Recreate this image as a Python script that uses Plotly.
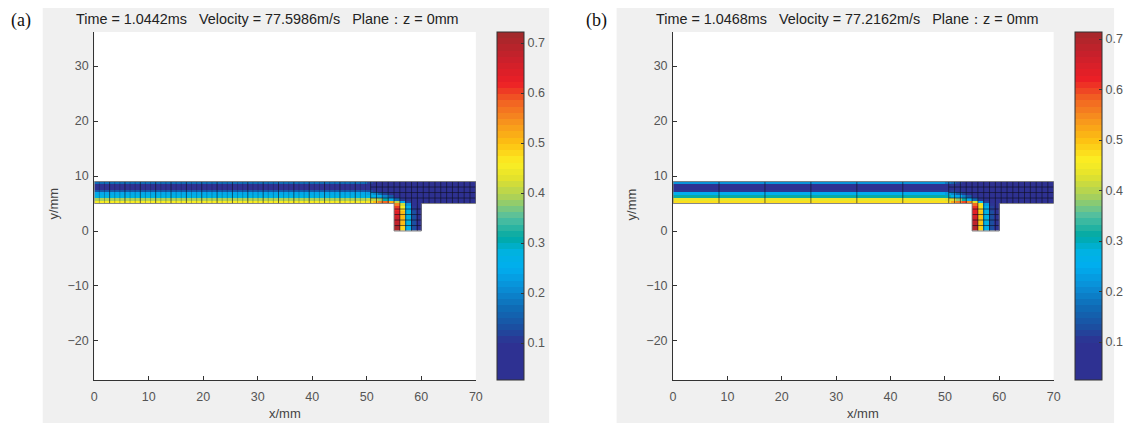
import plotly.graph_objects as go

# page body has an 8px margin, so the figure is drawn 8px in from the window edge
OFF = 8
W, H = 1135 - OFF, 423 - OFF

# ---------------- data ----------------
# cell grid: 1 mm columns (x 0..70), 0.5 mm rows (y 0..9)
x_centers = [0.5 + i for i in range(70)]
y_centers = [0.25 + 0.5 * j for j in range(18)]

# straight channel section (x < 50), rows top (y=9) -> bottom (y=5)
straight_a = [0.17, 0.09, 0.07, 0.14, 0.24, 0.28, 0.39, 0.46]
straight_b = [0.21, 0.09, 0.07, 0.10, 0.25, 0.31, 0.44, 0.48]

# junction section x = 50..60 (10 columns), channel rows top -> bottom
corner_a = [
    [0.12, 0.10, 0.09, 0.08, 0.07, 0.07, 0.07, 0.08, 0.07, 0.07],
    [0.08, 0.07, 0.07, 0.07, 0.07, 0.07, 0.07, 0.07, 0.07, 0.07],
    [0.07, 0.07, 0.07, 0.07, 0.07, 0.07, 0.07, 0.07, 0.07, 0.07],
    [0.13, 0.11, 0.09, 0.08, 0.07, 0.07, 0.07, 0.07, 0.07, 0.07],
    [0.23, 0.20, 0.16, 0.12, 0.09, 0.08, 0.07, 0.07, 0.07, 0.07],
    [0.28, 0.27, 0.24, 0.19, 0.14, 0.10, 0.08, 0.07, 0.07, 0.07],
    [0.40, 0.40, 0.38, 0.30, 0.24, 0.17, 0.11, 0.08, 0.07, 0.07],
    [0.47, 0.50, 0.55, 0.58, 0.52, 0.40, 0.24, 0.12, 0.08, 0.07],
]
corner_b = [
    [0.18, 0.15, 0.12, 0.09, 0.08, 0.07, 0.07, 0.08, 0.07, 0.07],
    [0.09, 0.10, 0.09, 0.08, 0.07, 0.07, 0.07, 0.07, 0.07, 0.07],
    [0.08, 0.09, 0.09, 0.08, 0.07, 0.07, 0.07, 0.07, 0.07, 0.07],
    [0.11, 0.12, 0.10, 0.08, 0.07, 0.07, 0.07, 0.07, 0.07, 0.07],
    [0.23, 0.20, 0.16, 0.12, 0.09, 0.08, 0.07, 0.07, 0.07, 0.07],
    [0.30, 0.28, 0.24, 0.19, 0.14, 0.10, 0.08, 0.07, 0.07, 0.07],
    [0.43, 0.42, 0.38, 0.32, 0.25, 0.17, 0.11, 0.08, 0.07, 0.07],
    [0.48, 0.52, 0.56, 0.60, 0.55, 0.42, 0.25, 0.12, 0.08, 0.07],
]

# vertical branch x = 55..60 (5 columns), rows top (y=5) -> bottom (y=0)
branch_a = [
    [0.55, 0.42, 0.22, 0.10, 0.07],
    [0.60, 0.46, 0.25, 0.11, 0.07],
    [0.62, 0.48, 0.27, 0.12, 0.07],
    [0.64, 0.50, 0.28, 0.13, 0.08],
    [0.65, 0.50, 0.28, 0.13, 0.08],
    [0.66, 0.50, 0.28, 0.13, 0.08],
    [0.67, 0.50, 0.28, 0.13, 0.08],
    [0.68, 0.50, 0.28, 0.13, 0.08],
    [0.70, 0.48, 0.27, 0.13, 0.08],
    [0.70, 0.48, 0.27, 0.13, 0.08],
]
branch_b = [
    [0.57, 0.44, 0.23, 0.11, 0.07],
    [0.61, 0.47, 0.26, 0.12, 0.07],
    [0.63, 0.49, 0.27, 0.12, 0.07],
    [0.64, 0.50, 0.28, 0.13, 0.08],
    [0.65, 0.50, 0.28, 0.13, 0.08],
    [0.66, 0.50, 0.28, 0.13, 0.08],
    [0.67, 0.50, 0.28, 0.13, 0.08],
    [0.68, 0.50, 0.28, 0.13, 0.08],
    [0.69, 0.49, 0.27, 0.13, 0.08],
    [0.69, 0.49, 0.27, 0.13, 0.08],
]

# downstream part x = 60..70, rows top -> bottom
downstream_a = [0.09, 0.07, 0.08, 0.07, 0.07, 0.07, 0.07, 0.07]
downstream_b = [0.08, 0.07, 0.07, 0.07, 0.07, 0.07, 0.07, 0.07]

# domain outline (mm)
outline_x = [0, 0, 70, 70, 60, 60, 55, 55, 0]
outline_y = [5, 9, 9, 5, 5, 0, 0, 5, 5]

titles = ["Time = 1.0442ms   Velocity = 77.5986m/s   Plane\uff1az = 0mm",
          "Time = 1.0468ms   Velocity = 77.2162m/s   Plane\uff1az = 0mm"]
panel_labels = ["(a)", "(b)"]
crange_a = [0.026, 0.722]
crange_b = [0.025, 0.714]
cb_ticks = [0.1, 0.2, 0.3, 0.4, 0.5, 0.6, 0.7]
x_ticks = [0, 10, 20, 30, 40, 50, 60, 70]
y_ticks = [-20, -10, 0, 10, 20, 30]

# ---------------- build fields ----------------
def build(straight, corner, branch, downstream):
    z = [[None] * 70 for _ in range(18)]
    for k in range(8):
        r = 17 - k
        for c in range(50):
            z[r][c] = straight[k]
        for j in range(10):
            z[r][50 + j] = corner[k][j]
        for c in range(60, 70):
            z[r][c] = downstream[k]
    for k in range(10):
        r = 9 - k
        for j in range(5):
            z[r][55 + j] = branch[k][j]
    return z

# ---------------- colour map (jet-like, banded) ----------------
anchor_v = [0.026, 0.10, 0.13, 0.17, 0.21, 0.25, 0.28, 0.31, 0.35, 0.39,
            0.43, 0.46, 0.50, 0.54, 0.58, 0.62, 0.67, 0.722]
anchor_c = ['#2e3192', '#2e3192', '#1c4ea0', '#0f6cb6', '#0a8ed6', '#00aeef',
            '#00b2e2', '#00a9a4', '#52bfa0', '#a8d05a', '#e3e22c', '#fbee23',
            '#fdc012', '#f7941d', '#f26522', '#ec1f26', '#c8202b', '#9e2a2b']

def hex2rgb(h):
    h = h.lstrip('#')
    return [int(h[i:i + 2], 16) for i in (0, 2, 4)]

def color_at(v):
    if v <= anchor_v[0]:
        return hex2rgb(anchor_c[0])
    for i in range(len(anchor_v) - 1):
        if anchor_v[i] <= v <= anchor_v[i + 1]:
            t = (v - anchor_v[i]) / (anchor_v[i + 1] - anchor_v[i])
            a, b = hex2rgb(anchor_c[i]), hex2rgb(anchor_c[i + 1])
            return [round(a[k] + t * (b[k] - a[k])) for k in range(3)]
    return hex2rgb(anchor_c[-1])

def banded_scale(zmin, zmax, n=56):
    cs = []
    for i in range(n):
        v = zmin + (i + 0.5) / n * (zmax - zmin)
        r, g, b = color_at(v)
        col = f'rgb({r},{g},{b})'
        cs.append([i / n, col])
        cs.append([(i + 1) / n, col])
    return cs

# ---------------- layout geometry (window pixels) ----------------
def px(x):
    return (x - OFF) / W

def py(y):
    return min(1.0, 1 - (y - OFF) / H)

panels = [
    dict(ax=(92, 477), cb=498, gray=(40, 551), title_c=267, label_x=6),
    dict(ax=(676, 1060), cb=1082, gray=(619, 1121), title_c=852, label_x=586),
]
AX_TOP, AX_BOT = 32, 380

fig = go.Figure()
shapes = []
annotations = []

fields = [build(straight_a, corner_a, branch_a, downstream_a),
          build(straight_b, corner_b, branch_b, downstream_b)]
cranges = [crange_a, crange_b]

FONT = "Liberation Sans, Arial, sans-serif"

for p, panel in enumerate(panels):
    xa = 'x' if p == 0 else 'x2'
    ya = 'y' if p == 0 else 'y2'
    zmin, zmax = cranges[p]
    fig.add_trace(go.Heatmap(
        x=x_centers, y=y_centers, z=fields[p], xaxis=xa, yaxis=ya,
        zmin=zmin, zmax=zmax, colorscale=banded_scale(zmin, zmax),
        hoverongaps=False,
        colorbar=dict(
            x=px(panel['cb']), xanchor='left', xref='paper',
            y=py(AX_BOT), yanchor='bottom', yref='paper',
            len=(AX_BOT - AX_TOP) / H, lenmode='fraction',
            thickness=27, thicknessmode='pixels',
            outlinewidth=1, outlinecolor='#333333',
            tickvals=cb_ticks, ticks='inside', ticklen=3, tickcolor='#333333',
            tickfont=dict(family=FONT, size=12.5, color='#555555'),
            xpad=0, ypad=0,
        ),
    ))

    # mesh lines
    mx, my = [], []
    mfx, mfy = [], []
    blk = 8.45
    if p == 0:
        k = 1
        while k * blk / 9 < 50.7 - 1e-6:
            xv = k * blk / 9
            if k % 3 == 0:
                mx += [xv, xv, None]; my += [5, 9, None]
            else:
                mfx += [xv, xv, None]; mfy += [5, 9, None]
            k += 1
    else:
        for k in range(1, 6):
            xv = k * blk
            mx += [xv, xv, None]; my += [5, 9, None]
    nj = 18
    for k in range(nj + 1):
        xv = 50.7 + k * (70 - 50.7) / nj
        mx += [xv, xv, None]; my += [5, 9, None]
        if 55 < xv < 60:
            mx += [xv, xv, None]; my += [0, 5, None]
    for yv in [6, 7, 8]:
        mx += [50.7, 70, None]; my += [yv, yv, None]
    for yv in [1, 2, 3, 4]:
        mx += [55, 60, None]; my += [yv, yv, None]
    fig.add_trace(go.Scatter(x=mfx, y=mfy, xaxis=xa, yaxis=ya, mode='lines',
                             line=dict(color='rgba(20,20,40,0.28)', width=1),
                             hoverinfo='skip', showlegend=False))
    fig.add_trace(go.Scatter(x=mx, y=my, xaxis=xa, yaxis=ya, mode='lines',
                             line=dict(color='rgba(15,15,30,0.6)', width=1),
                             hoverinfo='skip', showlegend=False))
    fig.add_trace(go.Scatter(x=outline_x, y=outline_y, xaxis=xa, yaxis=ya,
                             mode='lines',
                             line=dict(color='rgba(120,120,120,0.9)', width=1),
                             hoverinfo='skip', showlegend=False))

    # backgrounds
    g0, g1 = panel['gray']
    shapes.append(dict(type='rect', xref='paper', yref='paper', layer='below',
                       x0=px(g0), x1=px(g1), y0=0, y1=py(7),
                       fillcolor='#f0f0f0', line=dict(width=0)))
    a0, a1 = panel['ax']
    shapes.append(dict(type='rect', xref='paper', yref='paper', layer='below',
                       x0=px(a0), x1=px(a1), y0=py(AX_BOT), y1=py(AX_TOP),
                       fillcolor='white', line=dict(width=0)))

    # texts
    annotations.append(dict(text=titles[p], xref='paper', yref='paper',
                            x=px(panel['title_c']), y=py(19), xanchor='center',
                            yanchor='middle', showarrow=False,
                            font=dict(family=FONT, size=14.4, color='#222222')))
    annotations.append(dict(text=panel_labels[p], xref='paper', yref='paper',
                            x=px(panel['label_x']), y=py(20), xanchor='left',
                            yanchor='middle', showarrow=False,
                            font=dict(family='Liberation Serif, Times New Roman, serif',
                                      size=18, color='#111111')))
    annotations.append(dict(text='x/mm', xref='paper', yref='paper',
                            x=px((a0 + a1) / 2), y=py(413), xanchor='center',
                            yanchor='middle', showarrow=False,
                            font=dict(family=FONT, size=13, color='#444444')))
    annotations.append(dict(text='y/mm', xref='paper', yref='paper',
                            x=px(a0 - 41), y=py(204), xanchor='center',
                            yanchor='middle', showarrow=False, textangle=-90,
                            font=dict(family=FONT, size=13, color='#444444')))

axis_common = dict(showgrid=False, zeroline=False, showline=True,
                   linecolor='#333333', linewidth=1, ticks='inside', ticklen=4,
                   tickcolor='#333333', mirror=False,
                   tickfont=dict(family=FONT, size=12.5, color='#555555'))

fig.update_layout(
    width=W, height=H, margin=dict(l=0, r=0, t=0, b=0),
    paper_bgcolor='white', plot_bgcolor='rgba(0,0,0,0)',
    showlegend=False, shapes=shapes, annotations=annotations,
    xaxis=dict(domain=[px(92), px(477)], range=[0, 70], tickvals=x_ticks,
               anchor='y', ticklabelstandoff=5, **axis_common),
    yaxis=dict(domain=[py(AX_BOT), py(AX_TOP)], range=[-27.1, 36.2],
               tickvals=y_ticks, anchor='x', ticklabelstandoff=2, **axis_common),
    xaxis2=dict(domain=[px(676), px(1060)], range=[0, 70], tickvals=x_ticks,
                anchor='y2', ticklabelstandoff=5, **axis_common),
    yaxis2=dict(domain=[py(AX_BOT), py(AX_TOP)], range=[-27.1, 36.2],
                tickvals=y_ticks, anchor='x2', ticklabelstandoff=2, **axis_common),
)

fig.write_html("out.html")
